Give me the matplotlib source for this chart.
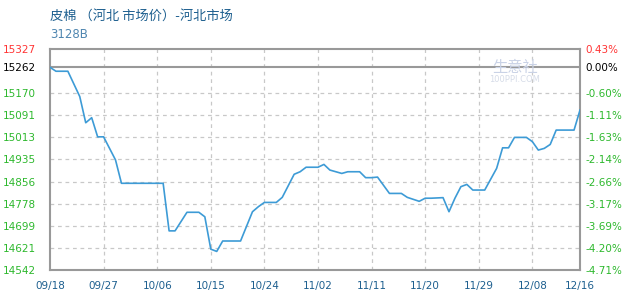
import matplotlib
matplotlib.use("Agg")
import matplotlib.pyplot as plt
import pandas as pd

# data (breakpoints of the price line)
dates = ["09-18", "09-19", "09-21", "09-23", "09-24", "09-25", "09-26", "09-27",
         "09-29", "09-30", "10-07", "10-08", "10-09", "10-11", "10-13", "10-14",
         "10-15", "10-16", "10-17", "10-20", "10-22", "10-23", "10-24", "10-26",
         "10-27", "10-29", "10-30", "10-31", "11-02", "11-03", "11-04", "11-06",
         "11-07", "11-09", "11-10", "11-11", "11-12", "11-14", "11-16", "11-17",
         "11-19", "11-20", "11-21", "11-23", "11-24", "11-25", "11-26", "11-27",
         "11-28", "11-30", "12-02", "12-03", "12-04", "12-05", "12-07", "12-08",
         "12-09", "12-10", "12-11", "12-12", "12-15", "12-16"]
prices = [15262, 15248, 15248, 15158, 15065, 15083, 15015, 15015,
          14933, 14850, 14850, 14681, 14681, 14747, 14747, 14731,
          14616, 14608, 14645, 14645, 14749, 14767, 14782, 14782,
          14800, 14882, 14891, 14907, 14907, 14917, 14897, 14885,
          14891, 14891, 14870, 14870, 14872, 14814, 14814, 14800,
          14786, 14797, 14797, 14799, 14749, 14797, 14838, 14846,
          14826, 14826, 14903, 14976, 14976, 15013, 15013, 14998,
          14968, 14974, 14988, 15039, 15039, 15110]

left_ticks = [15327, 15262, 15170, 15091.5, 15013, 14934.5, 14856, 14777.5, 14699, 14620.5, 14542]
left_labels = ["15327", "15262", "15170", "15091", "15013", "14935", "14856", "14778", "14699", "14621", "14542"]
right_labels = ["0.43%", "0.00%", "-0.60%", "-1.11%", "-1.63%", "-2.14%", "-2.66%", "-3.17%", "-3.69%", "-4.20%", "-4.71%"]
x_ticks = ["09-18", "09-27", "10-06", "10-15", "10-24", "11-02", "11-11", "11-20", "11-29", "12-08", "12-16"]
base = 15262

x = pd.to_datetime(["2025-" + d for d in dates])
xt = pd.to_datetime(["2025-" + d for d in x_ticks])

plt.rcParams['font.family'] = ['DejaVu Sans', 'Noto Sans CJK SC']
green = "#2db82d"
grid_c = "#c8c8c8"
axis_c = "#999999"

fig = plt.figure(figsize=(6.3, 3.0), dpi=100)
ax = fig.add_axes([50/630, 30/300, 530/630, 221/300])

ax.plot(x, prices, color="#3d9bd6", lw=1.2, zorder=3)
ax.axhline(base, color=axis_c, lw=1.5, zorder=2)

ax.set_xlim(xt[0], xt[-1])
ax.set_ylim(left_ticks[-1], left_ticks[0])

ax.set_yticks(left_ticks)
ax.set_yticklabels(left_labels, fontsize=7.5)
for i, t in enumerate(ax.get_yticklabels()):
    t.set_color("#ff3333" if i == 0 else ("black" if i == 1 else green))

ax.set_xticks(xt)
ax.set_xticklabels([d.replace("-", "/") for d in x_ticks], fontsize=7.5, color="#1d5f8f")
ax.tick_params(axis="both", length=0)
ax.tick_params(axis="x", pad=8)
ax.tick_params(axis="y", pad=10)

for v in left_ticks[2:-1]:
    ax.axhline(v, color=grid_c, lw=0.9, ls=(0, (3, 3)), zorder=1)
for d in xt[1:-1]:
    ax.axvline(d, color=grid_c, lw=0.9, ls=(0, (3, 3)), zorder=1)

for s in ax.spines.values():
    s.set_color(axis_c)
    s.set_linewidth(1.5)

ax2 = ax.twinx()
ax2.set_ylim(ax.get_ylim())
ax2.set_yticks(left_ticks)
ax2.set_yticklabels(right_labels, fontsize=7.5)
for i, t in enumerate(ax2.get_yticklabels()):
    t.set_color("#ff3333" if i == 0 else ("black" if i == 1 else green))
ax2.tick_params(axis="y", length=0, pad=4)
for s in ax2.spines.values():
    s.set_visible(False)

fig.text(50/630, 1 - 16/300, "皮棉 （河北 市场价）-河北市场", fontsize=9.5,
         color="#1d5f8f", family=['Noto Sans CJK SC', 'DejaVu Sans'], va="center")
fig.text(50/630, 1 - 35/300, "3128B", fontsize=8.5, color="#4f86b0", va="center")

# faint watermark
fig.text(515/630, 1 - 67/300, "生意社", fontsize=11, color="#c9d2e6",
         family=['Noto Sans CJK SC'], va="center", ha="center")
fig.text(515/630, 1 - 79/300, "100PPI.COM", fontsize=6, color="#d6dce8", va="center", ha="center")

fig.savefig("out.png", dpi=100)
